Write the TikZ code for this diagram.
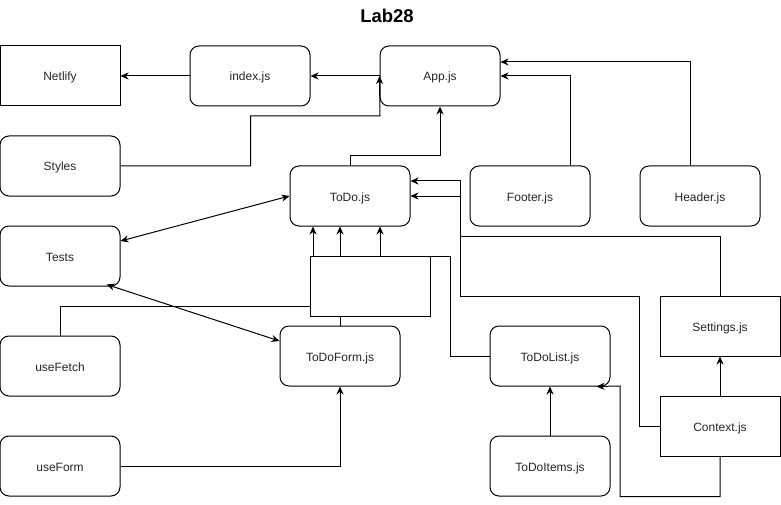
\documentclass[tikz,border=0pt]{standalone}
\usepackage{fontspec}
\setmainfont{Liberation Sans}
\usetikzlibrary{arrows.meta}
\begin{document}
\begin{tikzpicture}[x=1pt,y=-1pt,
  box/.style={draw, line width=1pt, fill=white, minimum width=120pt, minimum height=60pt,
    inner sep=0pt, text height=10pt, text depth=0pt,
    font=\fontsize{12}{14}\selectfont, text=black!85},
  rbox/.style={box, rounded corners=9pt},
  link/.style={line width=1pt, -{Stealth[length=8pt,width=7pt,inset=2.5pt]}},
  dlink/.style={line width=1pt, {Stealth[length=8pt,width=7pt,inset=2.5pt]}-{Stealth[length=8pt,width=7pt,inset=2.5pt]}}
]
\useasboundingbox (0,0) rectangle (781,505);

% title
\node[font=\bfseries\fontsize{18.5}{22}\selectfont] (title) at (387,16) {Lab28};

% components
\node[box]  (netlify)   at (60,76)   {Netlify};
\node[rbox] (index)     at (250,76)  {index.js};
\node[rbox] (app)       at (440,76)  {App.js};
\node[rbox] (styles)    at (60,166)  {Styles};
\node[rbox] (todo)      at (350,196) {ToDo.js};
\node[rbox] (footer)    at (530,196) {Footer.js};
\node[rbox] (header)    at (700,196) {Header.js};
\node[rbox] (tests)     at (60,256)  {Tests};
\node[rbox] (usefetch)  at (60,366)  {useFetch};
\node[rbox] (todoform)  at (340,356) {ToDoForm.js};
\node[rbox] (todolist)  at (550,356) {ToDoList.js};
\node[box]  (settings)  at (720,326) {Settings.js};
\node[box]  (context)   at (720,426) {Context.js};
\node[rbox] (useform)   at (60,466)  {useForm};
\node[rbox] (todoitems) at (550,466) {ToDoItems.js};

% bend points of the routed connectors
\coordinate (fetchup) at (313,306);
\coordinate (listup)  at (450,256);
\coordinate (ctxdown) at (620,386);

% connectors
\draw[link] (index.west) -- (netlify.east);
\draw[link] (app.west) -- (index.east);
\draw[link] (styles.east) -- ++(130,0) |- (380,116) -- (app.west);
\draw[link] (todo.north) -- ++(0,-10) -| (app.south);
\draw[link] ([xshift=40pt]footer.north) |- (app.east);
\draw[link] ([xshift=-10pt]header.north) |- ([yshift=14pt]app.east);
\draw[dlink] ([yshift=15pt]tests.east) -- (todo.west);
\draw[dlink] ([xshift=-14pt,yshift=2pt]tests.south east) -- ([yshift=15pt]todoform.west);
\draw[link] (usefetch.north) |- (fetchup) -- (fetchup |- todo.south);
\draw[link] (todoform.north) -- (todoform.north |- todo.south);
\draw[link] (todolist.west) -| (listup) -| ([xshift=30pt]todo.south);
\draw[link] (useform.east) -| (todoform.south);
\draw[link] (todoitems.north) -- (todolist.south);
\draw[link] (context.north) -- (settings.south);
\draw[link] (context.south) -- ++(0,40) -| (ctxdown) -- ([xshift=-14pt]todolist.south east);
\draw[link] (context.west) -- ++(-20,0) |- (460,296) |- ([yshift=15pt]todo.east);
\draw[link] (settings.north) |- (460,236) |- (todo.east);

% plain box laid over the connectors that pass through it
\node[box] (hub) at (370,286) {};
\end{tikzpicture}
\end{document}
